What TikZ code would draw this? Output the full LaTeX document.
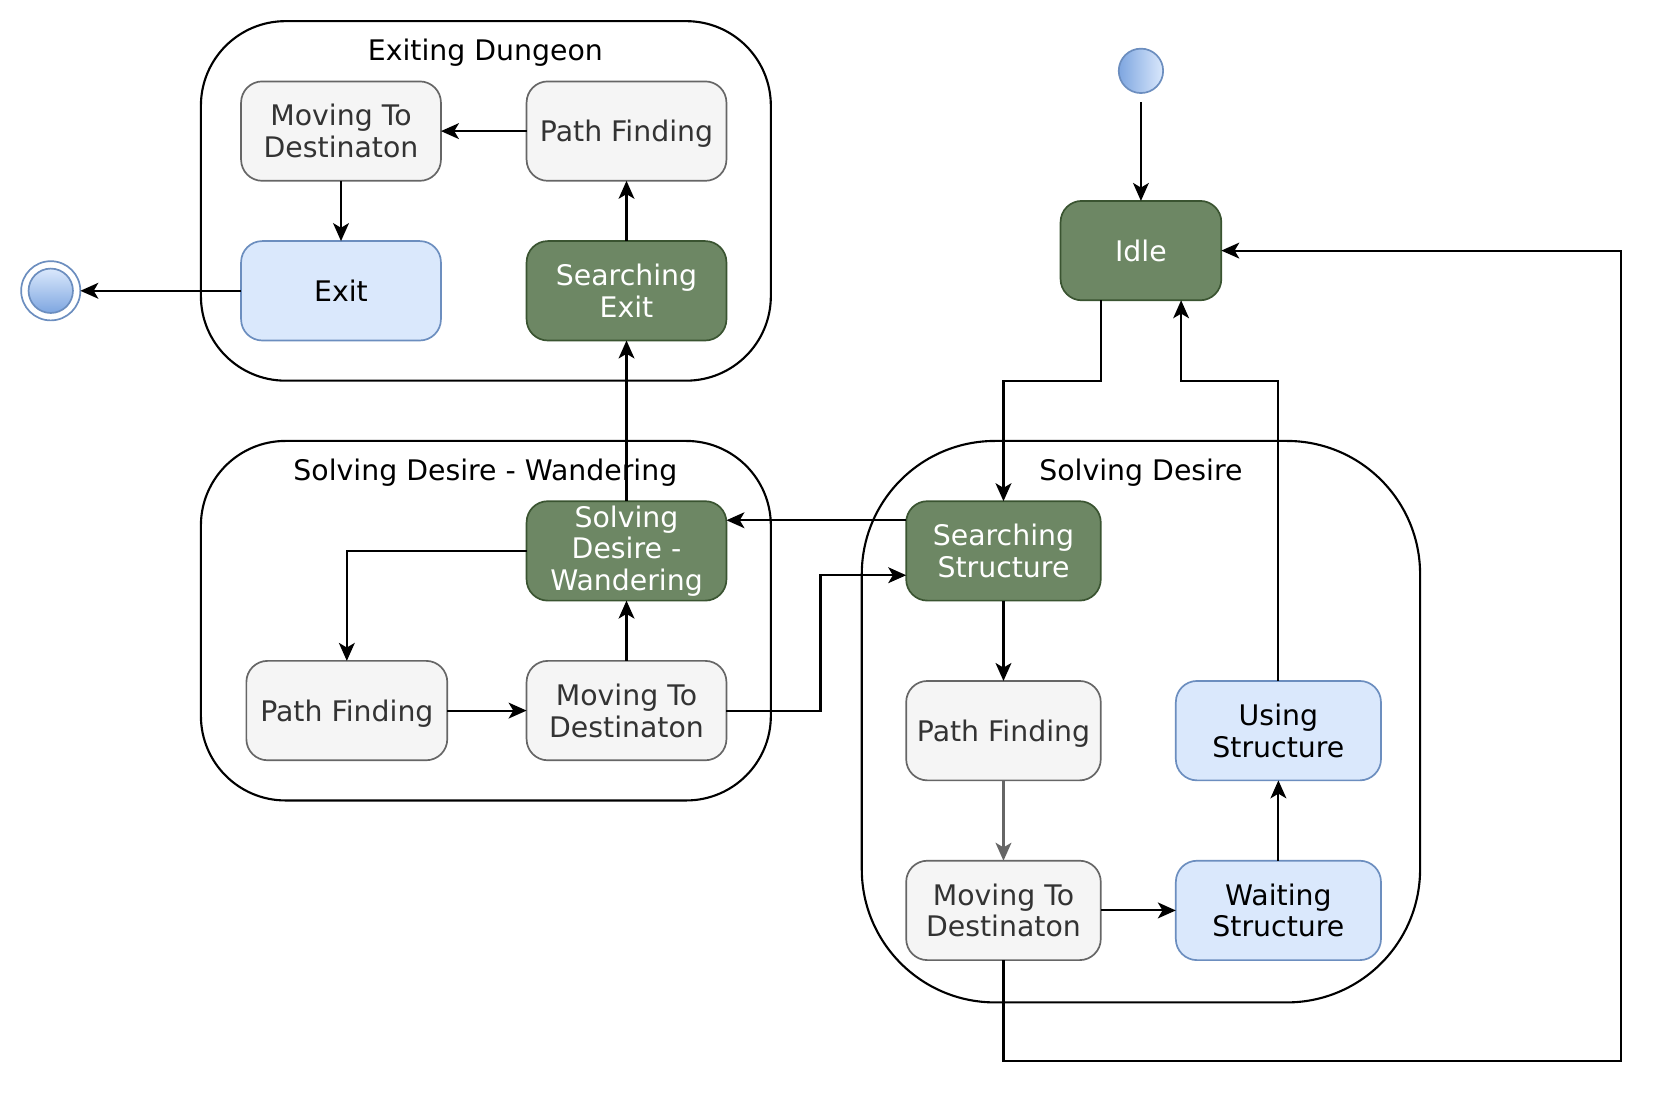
\documentclass[tikz,border=0pt]{standalone}
\usepackage{fontspec}
\setmainfont{DejaVu Sans}
\usetikzlibrary{positioning,arrows.meta}
\definecolor{taskfill}{HTML}{F5F5F5}
\definecolor{taskline}{HTML}{666666}
\definecolor{tasktext}{HTML}{333333}
\definecolor{actfill}{HTML}{6D8764}
\definecolor{actline}{HTML}{3A5431}
\definecolor{usefill}{HTML}{DAE8FC}
\definecolor{useline}{HTML}{6C8EBF}
\definecolor{usedark}{HTML}{7EA6E0}
\tikzset{basic/.style={draw,line width=0.8pt,rounded corners=10pt,minimum height=47pt,inner sep=1pt,outer sep=0pt,align=center,font=\fontsize{13.4}{15}\selectfont}}
\tikzset{task/.style={basic,fill=taskfill,draw=taskline,text=tasktext,minimum width=94.5pt}}
\tikzset{active/.style={basic,fill=actfill,draw=actline,text=white,minimum width=94.5pt}}
\tikzset{usage/.style={basic,fill=usefill,draw=useline,minimum width=97pt}}
\tikzset{region/.style={draw,line width=1pt,fill=white,outer sep=0pt}}
\tikzset{title/.style={font=\fontsize{13.4}{15}\selectfont,text depth=0pt}}
\tikzset{flow/.style={line width=1pt,-{Stealth[length=8.5pt,width=7.5pt,inset=2.2pt]}}}

\begin{document}
\begin{tikzpicture}[x=0.5pt,y=-0.5pt]
    \useasboundingbox (0,0) rectangle (1568,1038);
    % the three composite states
    \node[region,minimum width=269.5pt,minimum height=170pt,rounded corners=40pt] (exiting) at (459.5,190) {};
    \node[title] (exitingtitle) at (459,47) {Exiting Dungeon};
    \node[region,minimum width=269.5pt,minimum height=170pt,rounded corners=40pt] (wander) at (459.5,587) {};
    \node[title] (wandertitle) at (459,444) {Solving Desire - Wandering};
    \node[region,minimum width=264pt,minimum height=265.5pt,rounded corners=63pt] (solving) at (1079,682.5) {};
    \node[title] (solvingtitle) at (1079,444) {Solving Desire};
    % start and end
    \node[circle,draw=useline,line width=0.8pt,left color=usedark,right color=usefill,minimum size=21pt,inner sep=0pt] (start) at (1079,67) {};
    \node[circle,draw=useline,line width=0.8pt,fill=white,minimum size=28pt,inner sep=0pt,outer sep=0pt] (final) at (48,275) {};
    \node[circle,draw=useline,line width=0.8pt,top color=usefill,bottom color=usedark,minimum size=21pt,inner sep=0pt] (finalin) at (final) {};
    \node[active,minimum width=76pt] (idle) at (1079,237) {Idle};
    % exiting dungeon
    \node[task] (edmove) at (322.5,124) {Moving To\\Destinaton};
    \node[task,text depth=0pt,right=40.5pt of edmove] (edpath) {Path Finding};
    \node[usage,minimum width=94.5pt,below=28.5pt of edmove] (exit) {Exit};
    \node[active,below=28.5pt of edpath] (sexit) {Searching\\Exit};
    % wandering
    \node[task,text depth=0pt,minimum width=95pt] (wpath) at (328,672) {Path Finding};
    \node[task,right=37.5pt of wpath] (wmove) {Moving To\\Destinaton};
    \node[active,above=28.5pt of wmove] (sdw) {Solving\\Desire -\\Wandering};
    % solving desire
    \node[active,minimum width=92pt] (ss) at (949,521) {Searching\\Structure};
    \node[task,text depth=0pt,minimum width=92pt,below=38pt of ss] (sdpath) {Path Finding};
    \node[task,minimum width=92pt,below=38pt of sdpath] (sdmove) {Moving To\\Destinaton};
    \node[usage,right=35.5pt of sdmove] (waitst) {Waiting\\Structure};
    \node[usage,above=38pt of waitst] (using) {Using\\Structure};
    \coordinate (loop) at (1533,237);
    % transitions
    \draw[flow,shorten <=4pt] (start) -- (idle);
    \draw[flow] ([xshift=-19pt]idle.south) -- ++(0,76) -| (ss);
    \draw[flow] (using.north) -- ++(0,-284) -| ([xshift=19pt]idle.south);
    \draw[flow] (sdmove.south) -- ++(0,95) -| (loop) -- (idle);
    \draw[flow] ([yshift=14.5pt]ss.west) -- ([yshift=14.5pt]sdw.east);
    \draw[flow] (wmove.east) -- ++(89,0) |- ([yshift=-11.5pt]ss.west);
    \draw[flow] (sdw) -- (sexit);
    \draw[flow] (sexit) -- (edpath);
    \draw[flow] (edpath) -- (edmove);
    \draw[flow] (edmove) -- (exit);
    \draw[flow] (exit) -- (final);
    \draw[flow] (sdw) -| (wpath);
    \draw[flow] (wpath) -- (wmove);
    \draw[flow] (wmove) -- (sdw);
    \draw[flow] (ss) -- (sdpath);
    \draw[flow,taskline] (sdpath) -- (sdmove);
    \draw[flow] (sdmove) -- (waitst);
    \draw[flow] (waitst) -- (using);
\end{tikzpicture}
\end{document}
